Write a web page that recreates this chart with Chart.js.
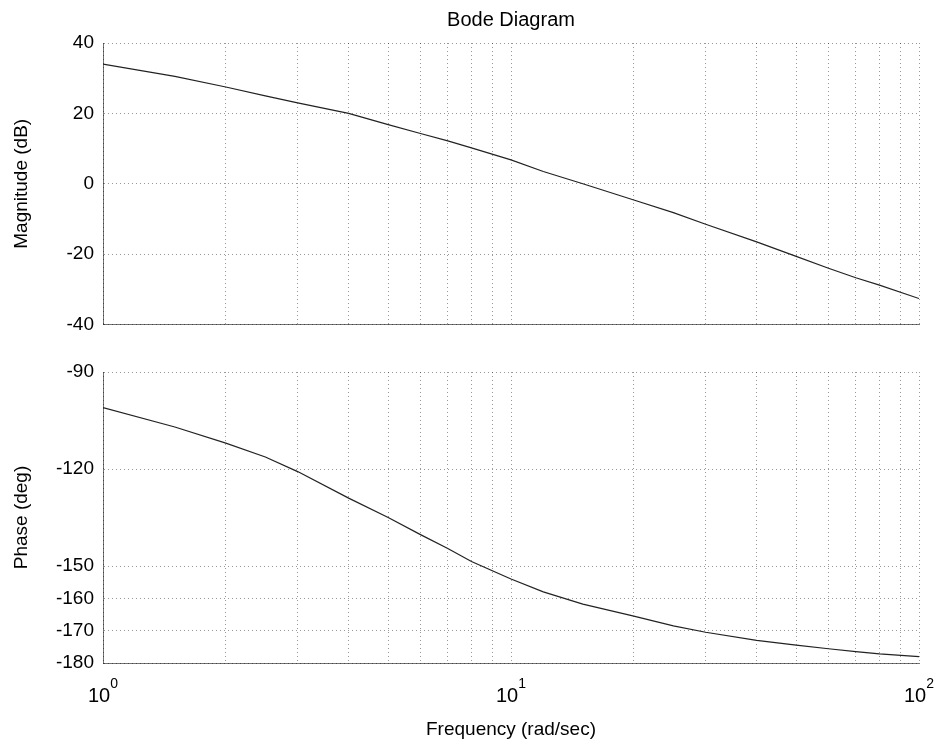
<!DOCTYPE html>
<html>
<head>
<meta charset="utf-8">
<script src="https://cdn.jsdelivr.net/npm/chart.js@4"></script>
<style>
  body { margin: 0; background: #fff; }
  #wrap { position: relative; width: 937px; height: 750px; }
  canvas { position: absolute; left: 0; }
</style>
</head>
<body>
<div id="wrap">
  <canvas id="magChart" width="937" height="345" style="top:0"></canvas>
  <canvas id="phaseChart" width="937" height="405" style="top:345px"></canvas>
</div>
<script>
const freq = [1, 1.5, 2, 2.5, 3, 4, 5, 6, 7, 8, 10, 12, 15, 20, 25, 30, 40, 50, 60, 70, 80, 100];
const magnitude = [34, 30.5, 27.5, 25, 23, 20, 16.8, 14.3, 12.2, 10.2, 6.8, 3.5, 0, -4.6, -8.2, -11.5, -16.5, -20.6, -24, -26.7, -28.8, -32.6];
const phase = [-101, -107, -112, -116.3, -120.8, -129, -135, -140.3, -144.6, -148.6, -154, -158, -161.8, -165.5, -168.5, -170.5, -173, -174.5, -175.6, -176.5, -177.2, -178];

const magTicks = [40, 20, 0, -20, -40];
const phaseTicks = [-90, -120, -150, -160, -170, -180];
const freqTicks = [1, 2, 3, 4, 5, 6, 7, 8, 9, 10, 20, 30, 40, 50, 60, 70, 80, 90, 100];
const decades = [1, 10, 100];

const FONT = "'Liberation Sans', Arial, sans-serif";
Chart.defaults.font.family = FONT;
Chart.defaults.color = "#000";

const gridStyle = { color: "rgba(0,0,0,0.4)", lineWidth: 1, drawTicks: false };
const borderStyle = { display: true, color: "rgba(0,0,0,0.55)", dash: [1, 3] };

function xScale(showLabels) {
  return {
    type: "logarithmic",
    min: 1,
    max: 100,
    afterBuildTicks: (s) => { s.ticks = freqTicks.map(v => ({ value: v })); },
    afterFit: (s) => { s.height = showLabels ? 87 : 6; },
    grid: gridStyle,
    border: borderStyle,
    ticks: { display: false }
  };
}

function yScale(min, max, tickList, label) {
  return {
    min: min,
    max: max,
    afterBuildTicks: (s) => { s.ticks = tickList.map(v => ({ value: v })); },
    afterFit: (s) => { s.width = 103; },
    grid: gridStyle,
    border: borderStyle,
    ticks: { padding: 9, font: { size: 19 } },
    title: { display: true, text: label, font: { size: 19 }, padding: { top: 10, bottom: 4 } }
  };
}

// titre centré sur la zone du graphe
const titlePlugin = {
  id: "plotTitle",
  afterDraw(chart) {
    const a = chart.chartArea;
    const c = chart.ctx;
    c.save();
    c.fillStyle = "#000";
    c.font = "20px " + FONT;
    c.textAlign = "center";
    c.textBaseline = "alphabetic";
    c.fillText("Bode Diagram", (a.left + a.right) / 2, 26);
    c.restore();
  }
};

// labels 10^n avec exposant
const expLabels = {
  id: "expLabels",
  afterDraw(chart) {
    const x = chart.scales.x;
    const c = chart.ctx;
    c.save();
    c.fillStyle = "#000";
    c.textBaseline = "alphabetic";
    decades.forEach((d, i) => {
      const px = x.getPixelForValue(d);
      c.font = "20px " + FONT;
      const wBase = c.measureText("10").width;
      c.font = "14px " + FONT;
      const wExp = c.measureText(String(i)).width;
      const start = px - (wBase + wExp) / 2;
      c.font = "20px " + FONT;
      c.fillText("10", start, chart.chartArea.bottom + 39);
      c.font = "14px " + FONT;
      c.fillText(String(i), start + wBase, chart.chartArea.bottom + 25);
    });
    c.restore();
  }
};

const magChart = new Chart(document.getElementById("magChart"), {
  type: "line",
  data: {
    datasets: [{
      data: freq.map((f, i) => ({ x: f, y: magnitude[i] })),
      borderColor: "#222",
      borderWidth: 1.2,
      pointRadius: 0,
      tension: 0
    }]
  },
  options: {
    responsive: false,
    animation: false,
    layout: { padding: { top: 43, right: 18 } },
    plugins: {
      legend: { display: false },
      tooltip: { enabled: false },
      title: { display: false }
    },
    scales: {
      x: xScale(false),
      y: yScale(-40, 40, magTicks, "Magnitude (dB)")
    }
  },
  plugins: [titlePlugin]
});

const phaseChart = new Chart(document.getElementById("phaseChart"), {
  type: "line",
  data: {
    datasets: [{
      data: freq.map((f, i) => ({ x: f, y: phase[i] })),
      borderColor: "#222",
      borderWidth: 1.2,
      pointRadius: 0,
      tension: 0
    }]
  },
  options: {
    responsive: false,
    animation: false,
    layout: { padding: { top: 27, right: 18 } },
    plugins: {
      legend: { display: false },
      tooltip: { enabled: false }
    },
    scales: {
      x: Object.assign(xScale(true), {
        title: { display: true, text: "Frequency (rad/sec)", font: { size: 19 }, padding: { top: 4, bottom: 9 } }
      }),
      y: yScale(-180, -90, phaseTicks, "Phase (deg)")
    }
  },
  plugins: [expLabels]
});
</script>
</body>
</html>
